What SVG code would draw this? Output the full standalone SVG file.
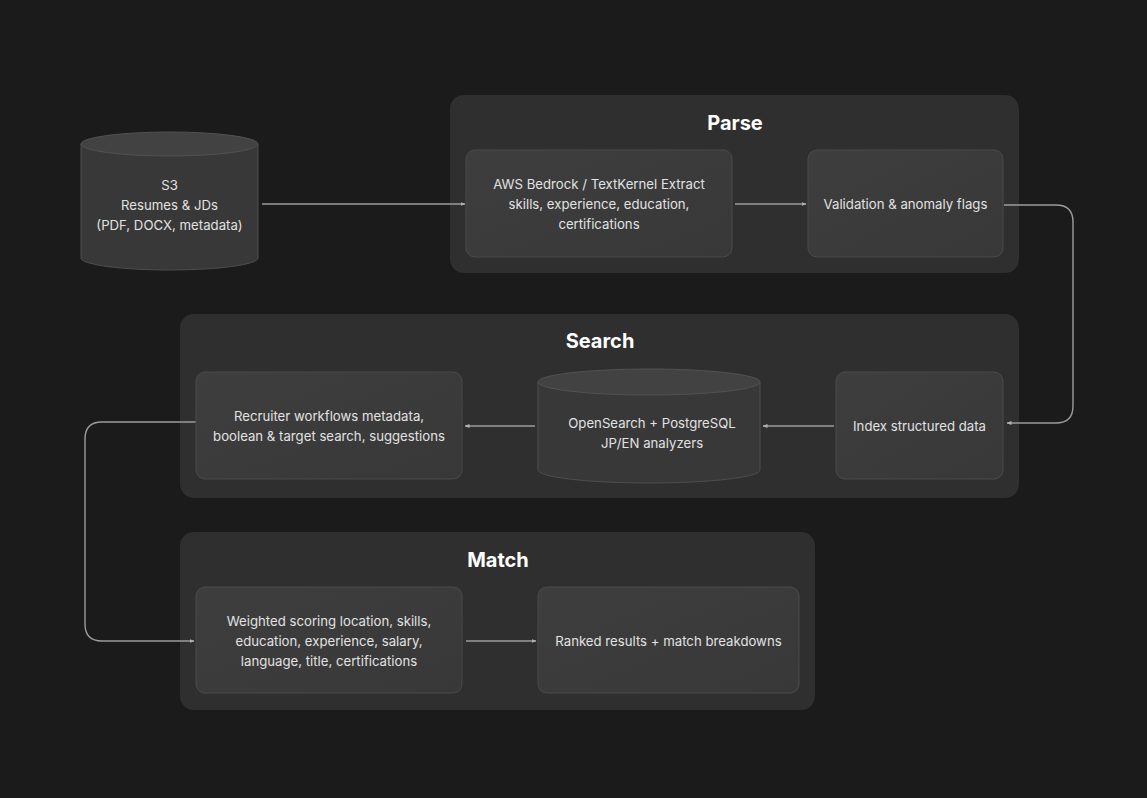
<svg xmlns="http://www.w3.org/2000/svg" width="1147" height="798" viewBox="0 0 1147 798">
<defs>
<style>
.grp{fill:#2f2f2f;}
.box{fill:url(#boxg);stroke:#4b4b4b;stroke-width:1;}
.cyl{fill:#383838;stroke:#4e4e4e;stroke-width:1;}
.cyltop{fill:#424242;stroke:#525252;stroke-width:1;}
.t{font-family:Inter,"Noto Sans","Liberation Sans",sans-serif;font-size:13.2px;fill:#e2e2e2;text-anchor:middle;}
.h{font-family:Inter,"Noto Sans","Liberation Sans",sans-serif;font-size:20px;font-weight:700;fill:#ffffff;text-anchor:middle;}
.c{fill:none;stroke:#9c9c9c;stroke-width:1.4;marker-end:url(#ah);}
</style>
<linearGradient id="boxg" x1="0" y1="0" x2="1" y2="1">
<stop offset="0" stop-color="#3e3e3e"/>
<stop offset="1" stop-color="#383838"/>
</linearGradient>
<marker id="ah" viewBox="0 0 10 10" refX="9" refY="5" markerWidth="5" markerHeight="5" orient="auto" markerUnits="userSpaceOnUse">
<path d="M0,1 L10,5 L0,9 z" fill="#b0b0b0"/>
</marker>
</defs>
<rect width="1147" height="798" fill="#1b1b1b"/>

<g id="parse-group">
<rect class="grp" x="450" y="95" width="569" height="178" rx="14"/>
<text class="h" x="735" y="130">Parse</text>
</g>
<g id="search-group">
<rect class="grp" x="180" y="314" width="839" height="184" rx="14"/>
<text class="h" x="600" y="348">Search</text>
</g>
<g id="match-group">
<rect class="grp" x="180" y="532" width="635" height="178" rx="14"/>
<text class="h" x="498" y="567">Match</text>
</g>

<g id="connectors">
<path class="c" d="M262,204 H465"/>
<path class="c" d="M735,204 H806"/>
<path class="c" d="M1004,205 H1056 Q1073,205 1073,222 V406 Q1073,423 1056,423 H1007"/>
<path class="c" d="M834,426 H763"/>
<path class="c" d="M535,426 H465"/>
<path class="c" d="M196,422 H102 Q85,422 85,439 V624 Q85,641 102,641 H194"/>
<path class="c" d="M466,641 H536"/>
</g>

<g id="s3">
<path class="cyl" d="M81,144 V258 A88.5,12 0 0 0 258,258 V144"/>
<ellipse class="cyltop" cx="169.5" cy="144" rx="88.5" ry="12"/>
<text class="t" x="169.5" y="190">S3</text>
<text class="t" x="169.5" y="210">Resumes &amp; JDs</text>
<text class="t" x="169.5" y="230">(PDF, DOCX, metadata)</text>
</g>

<g id="extract">
<rect class="box" x="466" y="150" width="266" height="107" rx="9"/>
<text class="t" x="599" y="189">AWS Bedrock / TextKernel Extract</text>
<text class="t" x="599" y="209">skills, experience, education,</text>
<text class="t" x="599" y="229">certifications</text>
</g>

<g id="validation">
<rect class="box" x="808" y="150" width="195" height="107" rx="9"/>
<text class="t" x="905.5" y="209">Validation &amp; anomaly flags</text>
</g>

<g id="recruiter">
<rect class="box" x="196" y="372" width="266" height="107" rx="9"/>
<text class="t" x="329" y="421">Recruiter workflows metadata,</text>
<text class="t" x="329" y="441">boolean &amp; target search, suggestions</text>
</g>

<g id="opensearch">
<path class="cyl" d="M538,382 V470 A111,13 0 0 0 760,470 V382"/>
<ellipse class="cyltop" cx="649" cy="382" rx="111" ry="13"/>
<text class="t" x="652" y="428">OpenSearch + PostgreSQL</text>
<text class="t" x="652" y="448">JP/EN analyzers</text>
</g>

<g id="index">
<rect class="box" x="836" y="372" width="167" height="107" rx="9"/>
<text class="t" x="919.5" y="431">Index structured data</text>
</g>

<g id="scoring">
<rect class="box" x="196" y="587" width="266" height="106" rx="9"/>
<text class="t" x="329" y="626">Weighted scoring location, skills,</text>
<text class="t" x="329" y="646">education, experience, salary,</text>
<text class="t" x="329" y="666">language, title, certifications</text>
</g>

<g id="ranked">
<rect class="box" x="538" y="587" width="261" height="106" rx="9"/>
<text class="t" x="668.5" y="646">Ranked results + match breakdowns</text>
</g>
</svg>
